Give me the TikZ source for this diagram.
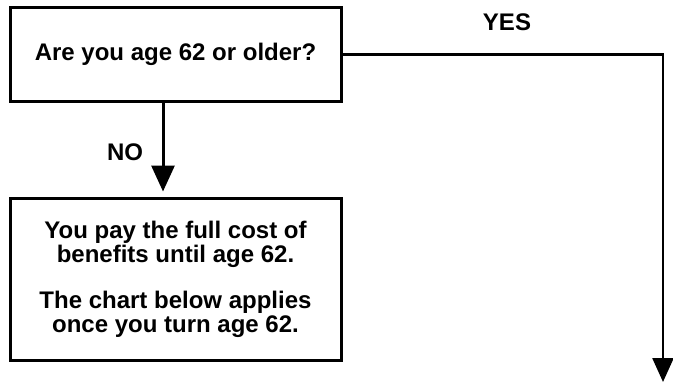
\documentclass[tikz,border=0pt]{standalone}
\usepackage{fontspec}
\setmainfont{Liberation Sans}
\usetikzlibrary{arrows.meta}
\begin{document}
\begin{tikzpicture}[x=1pt,y=-1pt,
  box/.style={draw=black,line width=3pt,rectangle,inner sep=0pt,align=center,
    font=\bfseries\fontsize{24}{23.5}\selectfont},
  lbl/.style={font=\bfseries\fontsize{24}{24}\selectfont,inner sep=0pt},
  noarr/.style={line width=3pt,-{Triangle[width=23pt,length=26pt]}},
  yesarr/.style={line width=2.5pt,-{Triangle[width=21pt,length=24pt]}}]
\useasboundingbox (0,0) rectangle (673,383);
\node[box,minimum width=331pt,minimum height=94.5pt] (q) at (175.5,54.25) {Are you age 62 or older?};
\node[box,minimum width=331pt,minimum height=162.5pt] (a) at (175.5,279.25)
  {You pay the full cost of\\benefits until age 62.\\[23pt]The chart below applies\\once you turn age 62.};
\coordinate (nx) at (163,0);
\coordinate (yend) at (663,382);
\draw[noarr,shorten >=5pt] (q.south -| nx) -- (a.north -| nx);
\draw[yesarr,line join=miter] (q.east) -| (yend);
\node[lbl] (no) at (125,152) {NO};
\node[lbl] (yes) at (507,22.5) {YES};
\end{tikzpicture}
\end{document}
